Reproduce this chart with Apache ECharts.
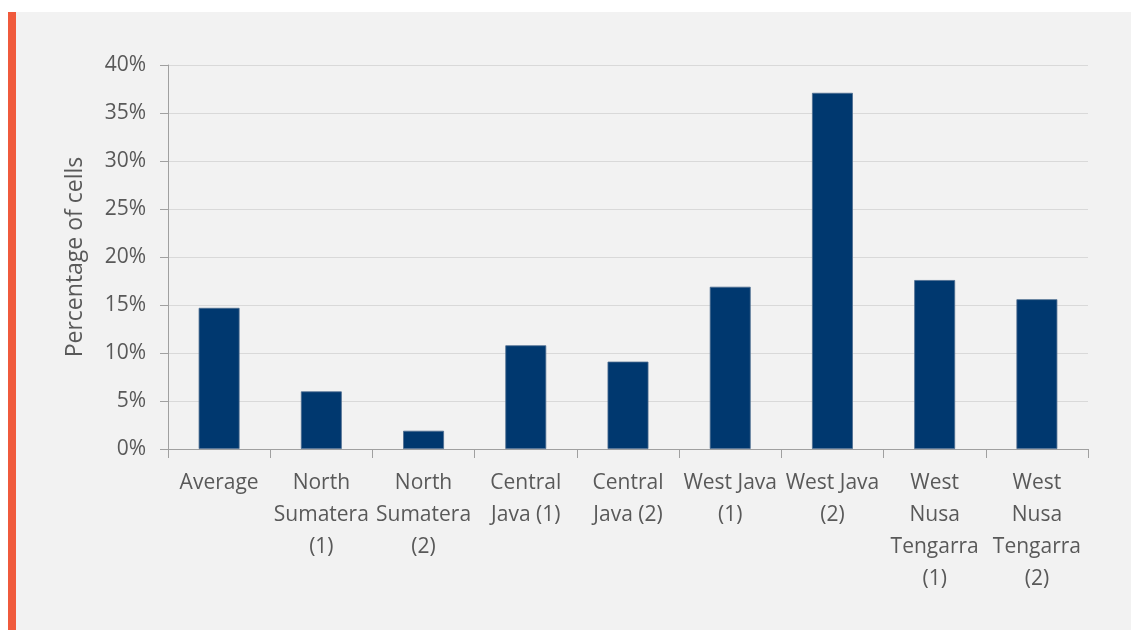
<!DOCTYPE html>
<html>
<head>
<meta charset="utf-8">
<style>
  html, body { margin: 0; padding: 0; background: #ffffff; }
  #chart { width: 1131px; height: 630px; }
</style>
<script src="https://cdn.jsdelivr.net/npm/echarts@6/dist/echarts.min.js"></script>
</head>
<body>
<div id="chart"></div>
<script>
// Share of cells per survey region
const categories = [
  'Average',
  'North\nSumatera\n(1)',
  'North\nSumatera\n(2)',
  'Central\nJava (1)',
  'Central\nJava (2)',
  'West Java\n(1)',
  'West Java\n(2)',
  'West\nNusa\nTengarra\n(1)',
  'West\nNusa\nTengarra\n(2)'
];
const percentOfCells = [14.7, 6.0, 1.9, 10.8, 9.1, 16.9, 37.1, 17.6, 15.6];
const yTicks = { min: 0, max: 40, step: 5 };
const axisTitle = 'Percentage of cells';

const textColor = '#595959';
const fontFamily = '"Open Sans", Lato, sans-serif';

const chart = echarts.init(document.getElementById('chart'), null, { renderer: 'canvas' });
chart.setOption({
  animation: false,
  backgroundColor: 'transparent',
  graphic: [
    { type: 'rect', z: -10, silent: true, shape: { x: 16, y: 12, width: 1115, height: 618 }, style: { fill: '#f2f2f2' } },
    { type: 'rect', z: -10, silent: true, shape: { x: 8, y: 12, width: 8, height: 618 }, style: { fill: '#f05a3c' } }
  ],
  grid: { left: 168, right: 43, top: 65, bottom: 181, containLabel: false },
  xAxis: {
    type: 'category',
    data: categories,
    axisLine: { lineStyle: { color: '#a0a0a0', width: 1 } },
    axisTick: { show: true, length: 9, alignWithLabel: false, lineStyle: { color: '#a0a0a0' } },
    axisLabel: {
      interval: 0,
      color: textColor,
      fontFamily: fontFamily,
      fontSize: 21,
      lineHeight: 32,
      margin: 18,
      align: 'center'
    }
  },
  yAxis: {
    type: 'value',
    min: yTicks.min,
    max: yTicks.max,
    interval: yTicks.step,
    name: axisTitle,
    nameLocation: 'middle',
    nameGap: 81,
    nameTextStyle: { color: textColor, fontFamily: fontFamily, fontSize: 23 },
    axisLine: { show: true, lineStyle: { color: '#a0a0a0', width: 1 } },
    axisTick: { show: true, length: 8, lineStyle: { color: '#a0a0a0' } },
    axisLabel: {
      color: textColor,
      fontFamily: fontFamily,
      fontSize: 21,
      margin: 22,
      formatter: v => v + '%'
    },
    splitLine: { show: true, lineStyle: { color: '#d9d9d9', width: 1 } }
  },
  series: [{
    type: 'bar',
    data: percentOfCells,
    barWidth: '40%',
    itemStyle: { color: '#00386f', borderColor: '#4d6c8f', borderWidth: 0.8 }
  }]
});
</script>
</body>
</html>
